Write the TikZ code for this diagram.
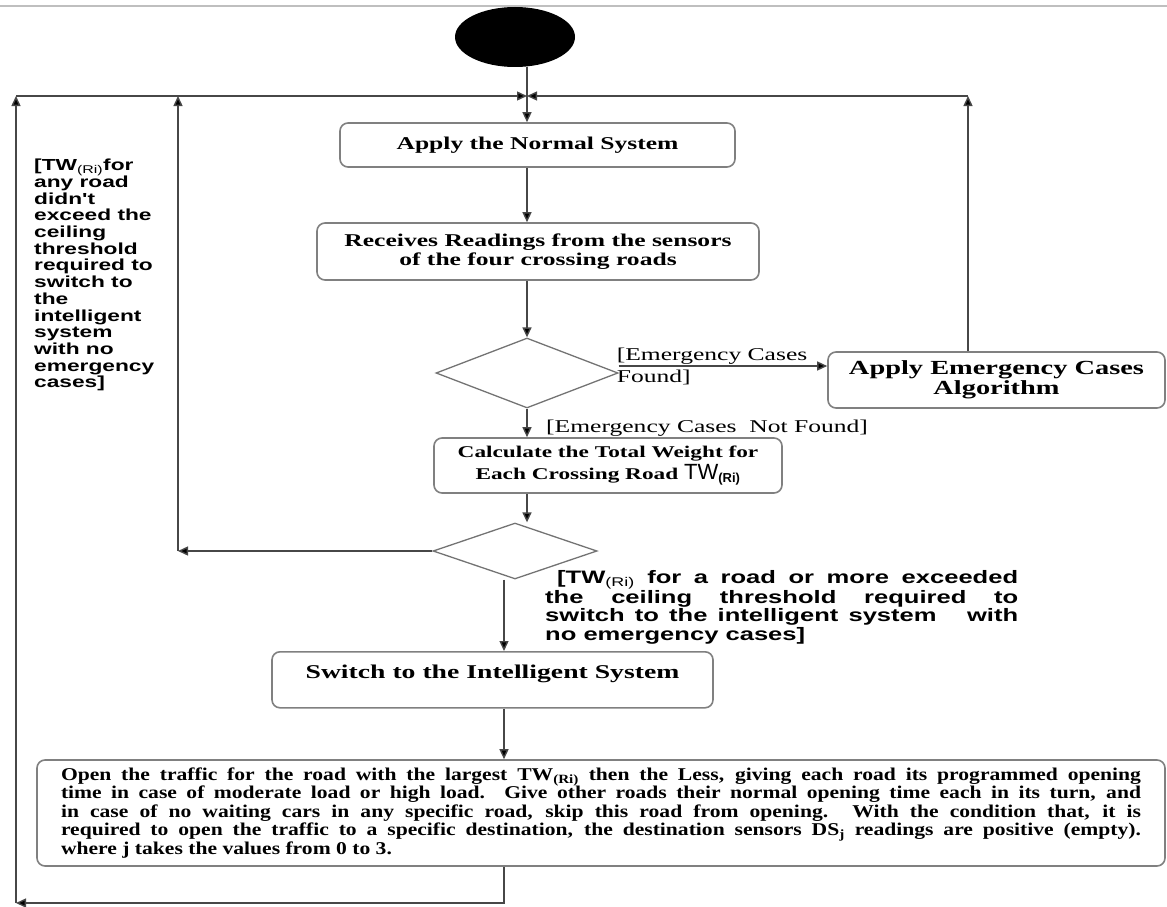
\documentclass[tikz,border=0pt]{standalone}
\usepackage{fontspec}
\setmainfont{Liberation Serif}
\newfontfamily\serifW[FakeStretch=1.42]{Liberation Serif}
\newfontfamily\serifC[FakeStretch=1.2]{Liberation Serif}
\newfontfamily\sansW[FakeStretch=1.42]{Liberation Sans}
\newfontfamily\sansN{Liberation Sans}
\usetikzlibrary{shapes.geometric,arrows.meta}
\newcommand\fs[2]{\fontsize{#1}{#2}\selectfont}
\begin{document}
\begin{tikzpicture}[x=1pt,y=-1pt,
  conn/.style={draw=black!72, line width=1.4pt, -{Triangle[length=10pt,width=9pt,fill=black]}},
  rbox/.style={draw=black!50, line width=1.6pt, rounded corners=8pt, fill=white, inner sep=0pt},
  dec/.style={diamond, draw=black!55, line width=1.3pt, inner sep=0pt},
  guard/.style={inner sep=0pt, align=left, font=\serifW\fs{18}{22}},
]
\useasboundingbox (0,0) rectangle (1167,907);
\draw[black!25, line width=1.5pt] (0,6) -- (1167,6);

\coordinate (J) at (527,96);
\coordinate (L) at (16,96);
\coordinate (M) at (178,96);
\coordinate (R) at (968,96);
\coordinate (X) at (504,0);
\coordinate (B) at (504,903);
\coordinate (BL) at (16,903);

\node[ellipse, fill=black, minimum width=120pt, minimum height=60pt, inner sep=0pt] (start) at (515,37) {};

\node[rbox, align=center, minimum width=395pt, minimum height=44pt, font=\serifW\bfseries\fs{18}{20}] (normal) at (537.5,145) {Apply the Normal System};

\node[rbox, align=center, minimum width=442pt, minimum height=57pt, font=\serifW\bfseries\fs{18}{19}] (read) at (538,251.5) {Receives Readings from the sensors\\of the four crossing roads};

\node[dec, minimum width=182pt, minimum height=70pt] (d1) at (527,373) {};

\node[rbox, align=center, minimum width=337pt, minimum height=56pt, font=\serifW\bfseries\fs{20}{20}] (em) at (996.5,380) {Apply Emergency Cases\\Algorithm};

\node[rbox, align=center, minimum width=348pt, minimum height=55pt, font=\serifW\bfseries\fs{16.4}{22}] (calc) at (608,465.5) {Calculate the Total Weight for\\Each Crossing Road {\sansN\mdseries\fs{22}{22}TW}\textsubscript{\sansN\bfseries\fs{13}{13}(Ri)}};

\node[dec, minimum width=164pt, minimum height=56pt] (d2) at (515,551) {};

\node[rbox, anchor=north, minimum width=441pt, minimum height=56pt, text height=27pt, text depth=29pt, font=\serifW\bfseries\fs{19.5}{20}] (sw) at (492.5,651) {Switch to the Intelligent System};

\node[rbox, minimum width=1128pt, minimum height=106pt, font=\serifC\bfseries\fs{18}{18.5}] (open) at (601,813) {\parbox{1080pt}{Open the traffic for the road with the largest TW\textsubscript{(Ri)} then the Less, giving each road its programmed opening\linebreak
time in case of moderate load or high load. Give other roads their normal opening time each in its turn, and\linebreak
in case of no waiting cars in any specific road, skip this road from opening. With the condition that, it is\linebreak
required to open the traffic to a specific destination, the destination sensors DS\textsubscript{j} readings are positive (empty).\linebreak
where j takes the values from 0 to 3.}};

\node[guard, anchor=west] (g1) at ([xshift=-2pt,yshift=7pt]d1.east) {[Emergency Cases\\Found]};
\node[guard, anchor=west] (g2) at (546,428) {[Emergency Cases\ \ Not Found]};

\node[anchor=north west, inner sep=0pt, align=left, font=\sansW\bfseries\fs{16}{16.7}] (g3) at (34,159) {[TW\textsubscript{\mdseries(Ri)}for\\any road\\didn't\\exceed the\\ceiling\\threshold\\required to\\switch to\\the\\intelligent\\system\\with no\\emergency\\cases]};

\node[anchor=north west, inner sep=0pt, font=\sansW\bfseries\fs{18}{18.7}] (g4) at (545,570) {\parbox{473pt}{\hspace*{12pt}[TW\textsubscript{\mdseries(Ri)} for a road or more exceeded\linebreak
the ceiling threshold required to\linebreak
switch to the intelligent system\ \ \ with\linebreak
no emergency cases]}};

\draw[conn] (start.south -| J) -- (normal.north -| J);
\draw[conn] (normal.south -| J) -- (read.north -| J);
\draw[conn] (read.south -| J) -- (d1.north);
\draw[conn] ([yshift=7pt]d1.east) -- ([yshift=7pt]d1.east -| em.west);
\draw[conn] (d1.south) -- (calc.north -| d1.south);
\draw[conn] (calc.south -| J) -- (d2.north -| J);
\draw[conn] (d2.west) -- (d2.west -| M);
\draw[conn] (d2.west -| M) -- (M);
\draw[conn] (d2.south -| X) -- (sw.north -| X);
\draw[conn] (sw.south -| X) -- (open.north -| X);
\draw[conn] (open.south -| X) -- (B) -- (BL);
\draw[conn] (BL) -- (L);
\draw[conn] (L) -- (J);
\draw[conn] (em.north -| R) -- (R);
\draw[conn] (R) -- (J);
\end{tikzpicture}
\end{document}
